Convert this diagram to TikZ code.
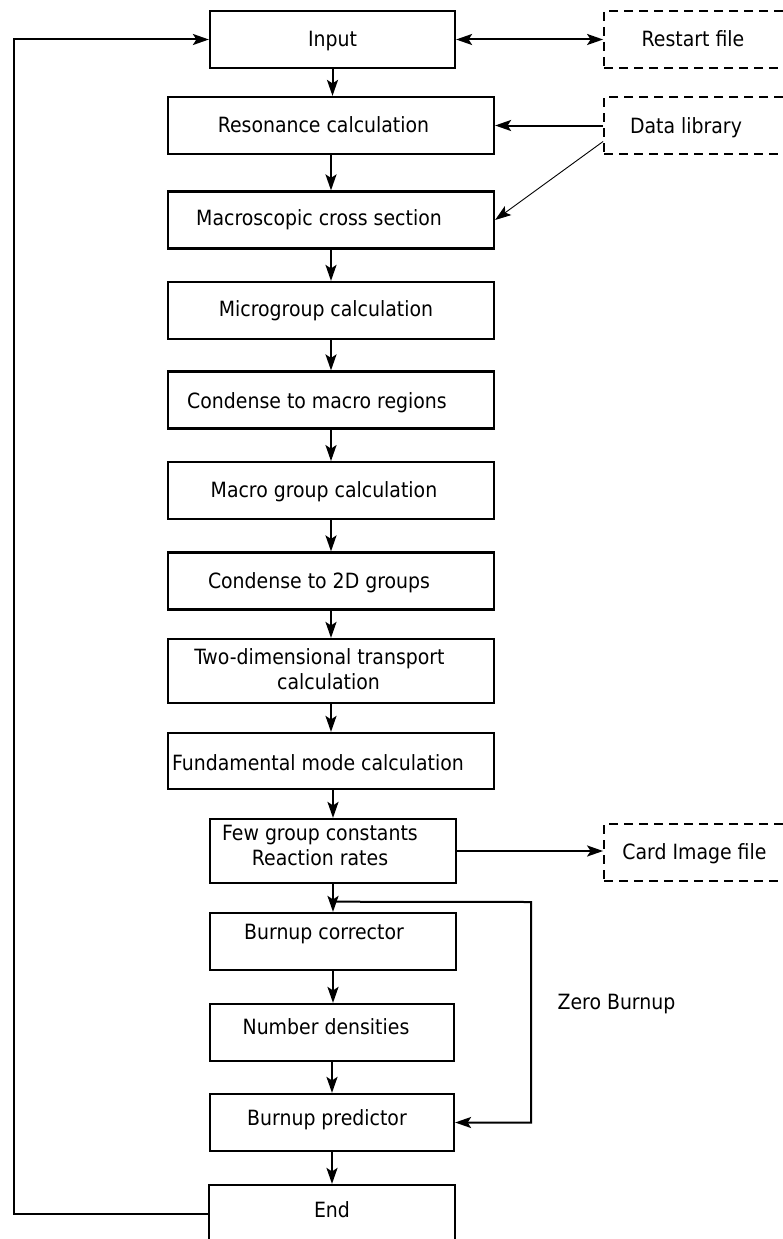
\documentclass[tikz,border=0pt]{standalone}
\usepackage{fontspec}
\newfontfamily\diafont{DejaVu Sans Condensed}
\usetikzlibrary{arrows.meta,calc}
\begin{document}
\begin{tikzpicture}[x=1pt,y=-1pt,
  font=\diafont\fontsize{21}{25}\selectfont,
  box/.style={draw, line width=2.2pt, minimum width=326pt, minimum height=57pt, inner sep=0pt},
  sbox/.style={box, minimum width=246pt},
  dbox/.style={draw, line width=1.8pt, dash pattern=on 9pt off 6pt, minimum width=181pt, minimum height=57pt, inner sep=0pt},
  lbl/.style={text height=0.72em, text depth=0.08em, inner sep=0pt},
  lbltwo/.style={align=center, inner sep=0pt},
  tip/.style={},
  arr/.style={line width=2pt, -{Stealth[length=16pt,width=11pt,inset=3.5pt]}},
  dblarr/.style={line width=2pt, {Stealth[length=16pt,width=11pt,inset=3.5pt]}-{Stealth[length=16pt,width=11pt,inset=3.5pt]}},
  thinarr/.style={line width=0.9pt, -{Stealth[length=16pt,width=11pt,inset=3.5pt]}}
]
\useasboundingbox (0,0) rectangle (783,1239);

\node[box, minimum width=245pt, label={[lbl, yshift=-4pt]center:Input}] (input) at (332.5,39.5) {};
\node[box, label={[lbl, xshift=-7.5pt, yshift=-4pt]center:Resonance calculation}] (res) at (331,125.5) {};
\node[box, label={[lbl, xshift=-12pt, yshift=-2pt]center:Macroscopic cross section}] (mac) at (331,220) {};
\node[box, label={[lbl, xshift=-5pt, yshift=-3pt]center:Microgroup calculation}] (mic) at (331,310.5) {};
\node[box, label={[lbl, xshift=-14pt, yshift=-5pt]center:Condense to macro regions}] (con) at (331,400) {};
\node[box, label={[lbl, xshift=-7pt, yshift=-4pt]center:Macro group calculation}] (mgc) at (331,490.7) {};
\node[box, label={[lbl, xshift=-12pt, yshift=-4pt]center:Condense to 2D groups}] (ctd) at (331,581) {};
\node[box, minimum height=64pt, label={[lbltwo, xshift=-11.5pt, yshift=1.5pt]center:{Two-dimensional transport\\\hspace*{18pt}calculation}}] (two) at (331,671) {};
\node[box, minimum height=56pt, label={[lbl, xshift=-13pt, yshift=-6pt]center:Fundamental mode calculation}] (fun) at (331,761) {};
\node[sbox, minimum height=64pt, label={[lbltwo, xshift=-13pt, yshift=6pt]center:{Few group constants\\Reaction rates}}] (few) at (333,851) {};
\node[sbox, label={[lbl, xshift=-9pt, yshift=5pt]center:Burnup corrector}] (bcor) at (333,941.5) {};
\node[sbox, minimum width=244pt, label={[lbl, xshift=-6pt, yshift=1pt]center:Number densities}] (nd) at (332,1032.5) {};
\node[sbox, minimum width=244pt, label={[lbl, xshift=-5pt]center:Burnup predictor}] (bpr) at (332,1122.5) {};
\node[sbox, minimum width=246pt, minimum height=58pt, label={[lbl]center:End}] (end) at (332,1214) {};

\node[dbox, label={[lbl, xshift=-1.5pt, yshift=-4pt]center:Restart file}] (restart) at (694.5,39.5) {};
\node[dbox, label={[lbl, xshift=-8.5pt, yshift=-5pt]center:Data library}] (data) at (694.5,125.5) {};
\node[dbox, label={[lbl, yshift=-4pt]center:Card Image file}] (card) at (694.5,852.5) {};

\node[anchor=base, inner sep=0pt] (zero) at (616.5,1009) {Zero Burnup};

% main chain
\draw[arr] (input.south) -- (input.south |- res.north);
\draw[arr] (res) -- (mac);
\draw[arr] (mac) -- (mic);
\draw[arr] (mic) -- (con);
\draw[arr] (con) -- (mgc);
\draw[arr] (mgc) -- (ctd);
\draw[arr] (ctd) -- (two);
\draw[arr] (two) -- (fun);
\draw[arr] (fun.south -| few.north) -- (few.north);
\draw[arr] (few) -- (bcor);
\draw[arr] (bcor) -- (nd.north -| bcor.south);
\draw[arr] (nd) -- (bpr);
\draw[arr] (bpr) -- (end);

% files
\draw[dblarr] (input.east) -- (restart.west);
\draw[arr] (data.west) -- (res.east);
\draw[thinarr] ([yshift=-16pt]data.west) -- (mac.east);
\draw[arr] (few.east) -- (card.west |- few.east);

% zero burnup bypass
\coordinate (zj) at ($(few.south)!0.633!(bcor.north)$);
\coordinate (zr) at (531,902);
\draw[arr] (zj) -- (zr) |- (bpr.east);

% feedback loop
\coordinate (fb) at (14,0);
\draw[arr] (end.west) -- (end.west -| fb) -- (input.west -| fb) -- (input.west);
\end{tikzpicture}
\end{document}
